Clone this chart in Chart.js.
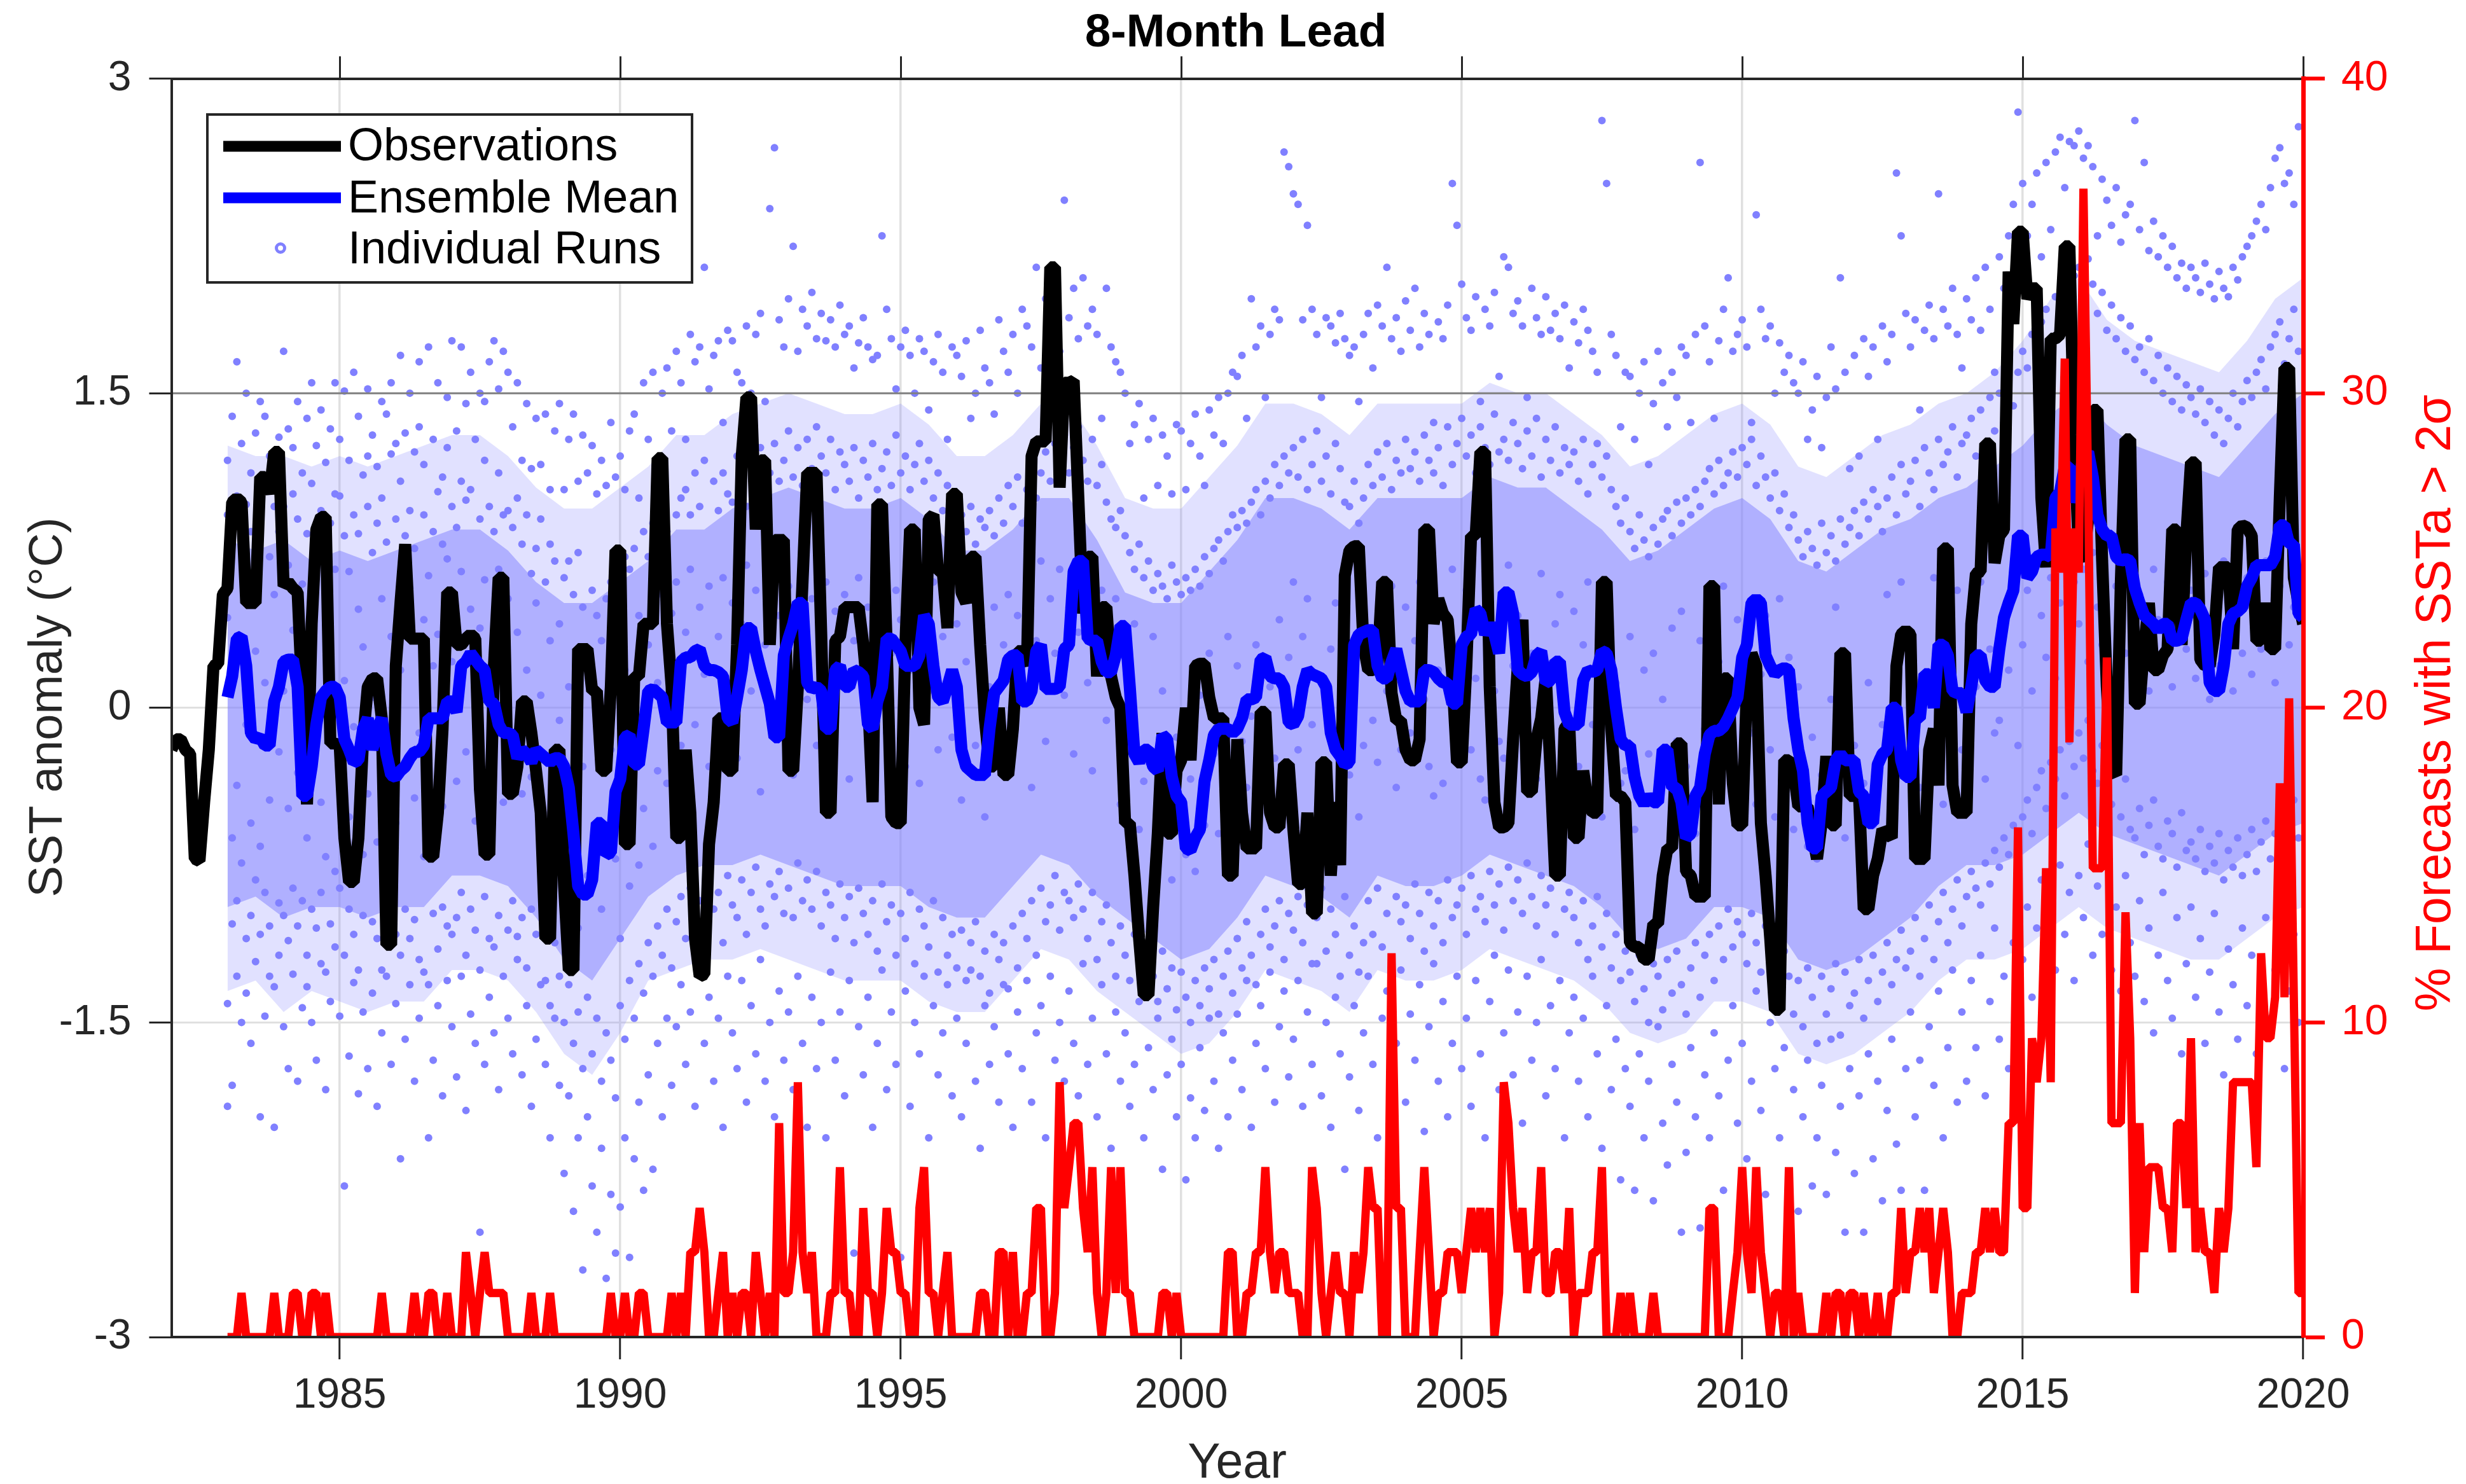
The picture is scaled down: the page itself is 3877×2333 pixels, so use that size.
<!DOCTYPE html>
<html><head><meta charset="utf-8">
<script src="https://cdn.jsdelivr.net/npm/chart.js@4"></script>
<style>html,body{margin:0;padding:0;background:#fff}canvas{display:block}</style></head>
<body><canvas id="c" width="3877" height="2333"></canvas>
<script>
const xTicks=[1985,1990,1995,2000,2005,2010,2015,2020];
const yTicks=[-3,-1.5,0,1.5,3];
const y2Ticks=[0,10,20,30,40];
const titleText='8-Month Lead', xTitle='Year', yTitle='SST anomaly (°C)', y2Title='% Forecasts with SSTa > 2σ';
const legendLabels=['Observations','Ensemble Mean','Individual Runs'];
const obsStartYear=1982, forecastStartYear=1983;
const obsValues=[
-.2,-.15,-.15,-.2,-.22,-.72,-.73,-.45,-.2,.2,.21,.54,
.57,.98,1.0,.98,.5,.5,.5,1.1,1.1,1.02,1.22,1.22,
.58,.6,.57,.55,.05,-.46,.4,.85,.91,.91,-.17,-.17,
-.18,-.62,-.83,-.83,-.62,-.15,.1,.14,.14,-.05,-1.13,-1.13,
.2,.5,.78,.33,.33,.33,.33,-.71,-.71,-.5,-.1,.55,
.55,.3,.3,.33,.35,.33,-.39,-.7,-.7,.2,.62,.62,
-.41,-.41,-.28,.03,.03,-.12,-.3,-.5,-1.1,-1.1,-.2,-.2,
-.85,-1.25,-1.25,.28,.28,.28,.08,.08,-.3,-.3,.1,.75,
.75,-.65,-.65,.15,.15,.4,.4,.4,1.19,1.19,.4,.1,
-.62,-.62,-.2,-.5,-1.1,-1.28,-1.27,-.65,-.45,-.05,-.05,-.3,
-.3,.3,1.2,1.48,1.48,.85,1.18,1.18,.3,.8,.8,.8,
-.3,-.3,.1,.6,1.12,1.12,1.12,.35,-.5,-.5,.32,.34,
.48,.48,.48,.48,.3,.05,-.45,.97,.97,.3,-.52,-.55,
-.55,.3,.85,.85,0,-.08,.9,.92,.65,.65,.38,1.02,
1.02,.55,.5,.72,.72,.3,-.05,-.28,-.28,0,-.32,-.32,
-.1,.27,.27,.2,1.2,1.27,1.27,1.27,2.1,2.1,1.05,1.55,
1.55,1.56,1.0,.45,.72,.72,.15,.48,.48,.15,.05,0,
-.55,-.55,-.8,-1.1,-1.37,-1.37,-.95,-.6,-.12,-.6,-.6,-.3,
-.25,0,-.25,.2,.21,.21,.05,-.05,-.05,-.05,-.8,-.8,
-.15,-.5,-.67,-.67,-.67,-.02,-.02,-.5,-.57,-.57,-.27,-.27,
-.58,-.84,-.84,-.5,-.98,-.98,-.26,-.26,-.8,-.45,-.75,.63,
.75,.77,.77,.3,.18,.18,.2,.6,.6,.07,-.06,-.06,
-.2,-.25,-.25,-.15,.85,.85,.4,.52,.45,.42,.15,-.26,
-.26,.2,.82,.82,1.22,1.22,.1,-.45,-.57,-.57,-.55,-.15,
.2,.42,-.4,-.4,-.15,-.05,.15,-.3,-.8,-.8,-.1,-.07,
-.62,-.62,-.3,-.45,-.5,-.5,.6,.6,-.1,-.42,-.42,-.45,
-1.12,-1.14,-1.14,-1.2,-1.2,-1.03,-1.03,-.8,-.67,-.67,-.17,-.17,
-.78,-.8,-.9,-.9,-.9,.58,.58,-.46,.14,.14,-.36,-.56,
-.56,.1,.26,.2,-.55,-.8,-1.1,-1.44,-1.44,-.25,-.25,-.3,
-.47,-.47,-.47,-.6,-.72,-.55,-.23,-.56,-.56,.26,.26,-.42,
-.42,-.42,-.96,-.96,-.8,-.72,-.58,-.6,-.62,.2,.35,.37,
.35,-.72,-.72,-.72,-.2,-.1,-.37,.76,.76,-.37,-.5,-.5,
-.5,.4,.64,.65,1.26,1.26,.69,.82,.85,2.08,1.83,2.27,
2.27,1.95,2.0,2.0,1.0,.67,1.76,1.76,1.78,2.2,2.2,1.3,
.75,.7,.9,1.42,1.42,.7,.1,-.3,-.32,.6,1.28,1.28,
.02,.02,.3,.5,.18,.18,.25,.28,.85,.85,.3,.82,
1.17,1.17,.23,.2,.2,.35,.67,.67,.67,.28,.85,.87,
.86,.82,.32,.32,.5,.28,.28,1.0,1.62,1.62,.62,.5,
.4];
const meanValues=[
.05,.15,.33,.34,.2,-.12,-.15,-.14,-.18,-.18,.03,.1,
.22,.23,.23,.1,-.42,-.42,-.28,-.08,.05,.08,.1,.1,
.05,-.15,-.2,-.26,-.25,-.1,-.05,-.2,-.1,-.05,-.22,-.32,
-.33,-.3,-.28,-.24,-.21,-.21,-.18,-.05,-.05,-.05,-.05,.03,
.03,-.02,.2,.22,.26,.23,.2,.18,.03,.02,-.08,-.12,
-.12,-.13,-.24,-.2,-.22,-.26,-.2,-.22,-.24,-.26,-.24,-.24,
-.28,-.38,-.6,-.85,-.89,-.89,-.82,-.55,-.55,-.7,-.69,-.4,
-.34,-.14,-.13,-.27,-.27,-.1,.08,.09,.07,.05,-.07,-.07,
-.07,.22,.24,.24,.27,.28,.2,.18,.18,.17,.15,-.05,
-.07,.05,.18,.38,.38,.27,.18,.1,.02,-.14,-.14,.25,
.33,.4,.5,.5,.12,.09,.1,.08,-.1,-.1,.18,.2,
.1,.1,.18,.17,.15,-.08,-.1,.03,.1,.33,.33,.3,
.27,.2,.2,.2,.25,.44,.4,.2,.05,.03,.1,.18,
.1,-.2,-.28,-.3,-.32,-.32,-.32,-.1,.07,.1,.13,.23,
.25,.25,.03,.03,.08,.27,.3,.09,.09,.09,.1,.28,
.3,.65,.7,.7,.33,.32,.32,.22,.17,.17,.25,.39,
.39,.1,-.22,-.26,-.2,-.2,-.28,-.3,-.13,-.15,-.33,-.42,
-.45,-.67,-.68,-.62,-.58,-.35,-.25,-.13,-.1,-.1,-.1,-.12,
-.1,-.05,.04,.04,.05,.23,.24,.15,.14,.14,.1,-.07,
-.08,-.04,.1,.18,.16,.15,.14,.1,-.12,-.2,-.23,-.27,
-.26,.3,.35,.36,.37,.37,.2,.14,.14,.22,.28,.18,
.08,.03,.03,.03,.18,.18,.17,.14,.12,.12,.02,.02,
.3,.34,.35,.47,.45,.35,.4,.35,.26,.55,.55,.45,
.18,.16,.15,.17,.25,.27,.12,.13,.22,.22,-.02,-.08,
-.08,-.08,.13,.18,.17,.18,.27,.26,.18,0,-.15,-.18,
-.18,-.33,-.42,-.46,-.42,-.45,-.45,-.2,-.2,-.38,-.38,-.45,
-.62,-.6,-.42,-.38,-.22,-.13,-.11,-.11,-.09,-.05,0,.05,
.24,.3,.5,.52,.5,.25,.2,.16,.18,.19,.18,-.05,
-.2,-.3,-.55,-.67,-.67,-.42,-.4,-.38,-.25,-.22,-.25,-.25,
-.25,-.4,-.42,-.55,-.55,-.27,-.22,-.2,0,0,-.25,-.33,
-.33,-.05,-.05,.16,.16,0,.3,.3,.25,.08,.07,.07,
-.02,.1,.25,.25,.13,.1,.1,.28,.43,.5,.56,.82,
.82,.62,.65,.72,.73,.73,.72,1.0,1.03,1.15,1.15,.98,
1.08,1.2,1.22,1.1,.92,.85,.82,.82,.72,.7,.71,.7,
.57,.5,.44,.42,.4,.37,.4,.4,.32,.32,.33,.42,
.5,.5,.47,.42,.12,.08,.08,.2,.4,.45,.46,.48,
.58,.62,.68,.68,.68,.68,.72,.87,.87,.78,.78,.45,
.43];
const pctValues=[
0,0,0,1.4,0,0,0,0,0,0,1.4,0,
0,0,1.4,1.4,0,0,1.4,1.4,0,1.4,0,0,
0,0,0,0,0,0,0,0,0,1.4,0,0,
0,0,0,0,1.4,0,0,1.4,1.4,0,0,1.4,
0,0,0,2.7,1.4,0,1.4,2.7,1.4,1.4,1.4,1.4,
0,0,0,0,0,1.4,0,0,0,1.4,0,0,
0,0,0,0,0,0,0,0,0,0,1.4,0,
0,1.4,0,0,1.4,1.4,0,0,0,0,0,1.4,
0,1.4,0,2.7,2.7,4.1,2.7,0,0,1.4,2.7,0,
1.4,0,1.4,1.4,0,2.7,1.4,0,1.4,0,6.8,1.4,
1.4,2.7,8.1,2.7,1.4,2.7,0,0,0,1.4,1.4,5.4,
1.4,1.4,0,0,4.1,1.4,1.4,0,1.4,4.1,2.7,2.7,
1.4,1.4,0,0,4.1,5.4,1.4,1.4,0,1.4,2.7,0,
0,0,0,0,0,1.4,1.4,0,0,2.7,2.7,0,
2.7,0,0,1.4,1.4,4.1,4.1,0,0,1.4,8.1,4.1,
5.4,6.8,6.8,4.1,2.7,5.4,1.4,0,1.4,5.4,1.4,5.4,
1.4,1.4,0,0,0,0,0,0,1.4,1.4,0,1.4,
0,0,0,0,0,0,0,0,0,0,2.7,2.7,
0,0,1.4,1.4,2.7,2.7,5.4,2.7,1.4,2.7,2.7,1.4,
1.4,1.4,0,0,5.4,4.1,1.4,0,1.4,2.7,1.4,1.4,
0,2.7,1.4,2.7,5.4,4.1,4.1,0,0,12.2,4.1,4.1,
0,0,0,2.7,5.4,2.7,0,1.4,1.4,2.7,2.7,2.7,
1.4,2.7,4.1,2.7,4.1,2.7,4.1,0,1.4,8.1,6.8,4.1,
2.7,4.1,1.4,2.7,2.7,5.4,1.4,1.4,2.7,2.7,1.4,4.1,
0,1.4,1.4,1.4,2.7,2.7,5.4,0,0,0,1.4,0,
1.4,0,0,0,0,1.4,0,0,0,0,0,0,
0,0,0,0,0,4.1,4.1,0,0,0,1.4,2.7,
5.4,2.7,1.4,5.4,2.7,1.4,0,1.4,1.4,0,5.4,0,
1.4,0,0,0,0,0,1.4,0,1.4,1.4,0,1.4,
1.4,0,1.4,0,0,1.4,0,0,1.4,1.4,4.1,1.4,
2.7,2.7,4.1,2.7,4.1,1.4,2.7,4.1,2.7,0,0,1.4,
1.4,1.4,2.7,2.7,4.1,2.7,4.1,2.7,2.7,6.8,6.8,16.2,
4.1,4.1,9.5,8.1,9.5,14.9,8.1,25.7,24.3,31.1,18.9,25.7,
24.3,36.5,27,14.9,14.9,14.9,21.6,6.8,6.8,6.8,13.5,9.5,
1.4,6.8,2.7,5.4,5.4,5.4,4.1,4.1,2.7,6.8,6.8,4.1,
9.5,2.7,4.1,2.7,2.7,1.4,4.1,2.7,4.1,8.1,8.1,8.1,
8.1,8.1,5.4,12.2,9.5,9.5,10.8,17.6,10.8,20.3,10.8,1.4,
1.4];
// Outlines of the solid and the thinner part of the run cloud, read every half year from 1983.0 on
const denseHi=[.8,.75,.8,.7,.75,.7,.75,.8,.85,.85,.75,.6,.5,.5,.6,.7,.85,.85,.95,1,1.05,1,.95,.95,1,.9,.75,.75,.85,1,1,.8,.55,.5,.5,.65,.8,1,1,.95,.85,1,1,1,1,1.1,1.05,1.05,.95,.85,.7,.75,.85,.95,1,.9,.7,.65,.75,.85,.9,1,1.05,1.15,1.25,1.4,1.5,1.35,1.25,1.2,1.15,1.1,1.25,1.4,1.5];
const denseLo=[-.95,-.9,-1,-.95,-.95,-1,-.95,-.95,-.8,-.8,-.85,-1,-1.2,-1.3,-1.1,-.9,-.8,-.75,-.75,-.7,-.75,-.8,-.85,-.85,-.85,-.95,-1,-1,-.85,-.7,-.75,-.9,-1,-1.1,-1.2,-1.15,-1,-.8,-.85,-.9,-1,-.8,-.85,-.85,-.8,-.7,-.75,-.8,-.85,-.95,-1.1,-1.15,-1.1,-.95,-.95,-1,-1.2,-1.25,-1.2,-1.1,-1,-.85,-.75,-.75,-.7,-.6,-.5,-.6,-.65,-.7,-.75,-.8,-.7,-.6,-.55];
const thinHi=[1.25,1.2,1.2,1.15,1.2,1.15,1.2,1.25,1.3,1.3,1.2,1.05,.95,.95,1.05,1.15,1.3,1.3,1.4,1.45,1.5,1.45,1.4,1.4,1.45,1.35,1.2,1.2,1.3,1.45,1.45,1.25,1,.95,.95,1.1,1.25,1.45,1.45,1.4,1.3,1.45,1.45,1.45,1.45,1.55,1.5,1.5,1.4,1.3,1.15,1.2,1.3,1.4,1.45,1.35,1.15,1.1,1.2,1.3,1.35,1.45,1.5,1.6,1.75,1.95,2.05,1.85,1.75,1.7,1.65,1.6,1.75,1.95,2.05];
const thinLo=[-1.35,-1.3,-1.45,-1.35,-1.4,-1.45,-1.4,-1.4,-1.25,-1.25,-1.3,-1.45,-1.65,-1.75,-1.55,-1.3,-1.25,-1.2,-1.2,-1.15,-1.2,-1.25,-1.3,-1.3,-1.3,-1.4,-1.45,-1.45,-1.3,-1.15,-1.2,-1.35,-1.45,-1.55,-1.65,-1.6,-1.45,-1.25,-1.3,-1.35,-1.45,-1.25,-1.3,-1.3,-1.25,-1.15,-1.2,-1.25,-1.3,-1.4,-1.55,-1.6,-1.55,-1.4,-1.4,-1.45,-1.65,-1.7,-1.65,-1.55,-1.45,-1.3,-1.2,-1.2,-1.15,-1.05,-.95,-1.05,-1.1,-1.15,-1.2,-1.2,-1.1,-1,-.95];
// Individual runs, one list per month of each year, in hundredths of a degree
const runs1983=[[118,-190,43,-141,92],[-62,139,-103,-180,16,78],[165,-128,101,-37,-92],[88,-150,126,-74,30],[-110,150,61,-136,-8,97],[-160,84,112,-55,-99],[27,131,-121,-82,70],[-195,146,-66,95,-108],[107,-147,12,139,-88],[-128,72,120,-44,-104],[-200,96,-133,54,113],[129,-93,-21,-118,84]];
const runs1984=[[170,-152,8,96,-99],[-111,68,133,-172,-48],[124,-86,37,-127,102],[-178,146,-31,90,-104],[59,-143,112,-92,19],[138,-118,-62,83,-133],[-96,155,41,-150,107],[-168,76,125,-14,-105],[94,-122,-45,142,-88],[-182,58,117,-126,-71],[133,-103,23,88,-140],[-78,155,-114,66,102]];
const runs1985=[[101,-147,-33,128,-86],[-228,82,151,-118,13],[65,-96,118,-166,-52],[160,-131,-9,92,-108],[-125,47,139,-184,83],[-99,111,-145,29,-70],[152,-172,-41,96,120],[-136,74,-102,130,5],[-190,115,-64,88,-110],[146,-155,52,-125,100],[-128,-22,140,79,-104],[-170,121,34,-89,155]];
const runs1986=[[90,-141,-55,126,-108],[-215,168,18,-118,108],[-158,82,131,-28,-96],[150,-132,57,-110,94],[76,-178,-43,122,-101],[165,-148,-12,134,-120],[-126,92,-71,116,42],[-205,172,63,-132,-6],[-168,128,-98,84,20],[-142,155,35,-115,103],[110,-185,-47,78,-95],[-130,148,71,-104,124]];
const runs1987=[[175,-152,22,-108,96],[-176,86,132,-35,-100],[172,-128,65,-88,108],[-192,145,-21,99,-118],[104,-146,160,47,-96],[-106,128,-160,9,-54],[150,-250,90,-125,38],[-170,118,-90,146,61],[165,-138,-28,96,-110],[-155,175,84,-114,26],[-182,112,152,-99,66],[170,-128,-45,92,18]];
const runs1988=[[160,-148,52,94,-106],[-165,134,-16,-92,86],[155,-120,36,100,-109],[-175,78,118,-41,-100],[145,-142,18,-124,92],[-190,114,-96,64,-33],[138,-158,50,-108,76],[-132,116,-52,90,6],[140,-170,60,-130,-88],[-205,104,-142,32,78],[132,-148,-24,70,-112],[-180,145,-128,40,-6]];
const runs1989=[[-222,104,-150,-38,62],[128,-185,-132,10,70],[-240,140,-62,-160,54],[-105,108,-205,74,-145],[130,-268,-172,48,-28],[-195,112,-80,-138,22],[125,-228,56,-165,14],[-250,102,-148,-55,44],[118,-210,-178,32,-96],[-272,-155,106,-8,52],[136,-232,-168,60,-20],[-260,110,-186,-72,50]];
const runs1990=[[-238,120,-142,-110,60],[-205,104,-158,18,72],[132,-262,-130,-85,66],[-215,140,-148,-14,76],[-75,100,-188,-122,44],[155,-230,-136,-48,84],[128,-175,-112,30,72],[-220,160,-128,-66,88],[-30,112,-160,-104,12],[150,-195,-118,54,92],[-148,162,-96,-36,84],[-180,45,132,-124,24]];
const runs1991=[[170,-152,-102,60,92],[-132,155,-18,-90,100],[-170,128,36,-110,104],[178,-145,-86,66,92],[-190,-98,165,-8,112],[172,-125,48,-92,96],[210,-160,-106,16,118],[-138,152,-28,-84,58],[168,-178,-96,-30,108],[-148,175,34,-88,94],[-200,136,-112,62,112],[180,-128,-80,12,102]];
const runs1992=[[175,-155,-94,50,98],[-172,160,-24,-100,120],[-130,155,40,-82,106],[182,-188,-108,68,96],[-142,150,8,-88,116],[178,-165,-76,56,104],[188,-120,-96,-40,124],[-178,146,30,-104,100],[238,-150,-84,64,112],[267,-195,-90,-10,126],[-135,185,44,-78,108],[172,-168,-98,22,118]];
const runs1993=[[195,-145,-86,58,132],[220,-182,-100,-32,110],[-128,170,36,-74,124],[190,-160,-92,66,106],[182,-200,-82,4,128],[198,-138,-96,52,114],[-172,176,-18,-78,134],[188,-150,-104,28,120],[175,-205,-88,60,112],[185,-126,-94,-26,128],[-168,172,46,-110,104],[192,-145,-84,14,122]];
const runs1994=[[178,-185,-100,54,116],[182,-130,-90,-34,108],[-260,162,-112,32,124],[174,-152,-86,62,100],[186,-175,-98,6,118],[172,-138,-108,48,110],[-200,166,-22,-92,126],[168,-160,-116,38,104],[225,-125,-84,70,114],[190,-182,-102,-12,122],[176,-145,-94,26,106],[-170,152,56,-118,130]];
const runs1995=[[172,-262,-98,42,112],[180,-135,-110,-28,120],[168,-190,-88,18,104],[-150,150,64,-122,116],[176,-165,-96,-36,126],[170,-128,-104,50,108],[-205,142,8,-114,118],[165,-142,-92,60,100],[178,-175,-126,-20,112],[160,-155,-100,34,94],[-132,128,58,-118,106],[172,-185,-108,-14,98]];
const runs1996=[[168,-148,-124,40,102],[158,-195,-106,-44,92],[175,-160,-130,22,84],[-125,138,56,-112,96],[150,-178,-102,-18,78],[180,-210,-128,36,90],[162,-142,-116,-52,86],[155,-170,-136,10,94],[-152,140,48,-108,82],[185,-188,-120,-28,100],[170,-132,-112,30,88],[160,-165,-134,54,106]];
const runs1997=[[178,-200,-104,-8,96],[-145,150,44,-124,110],[190,-172,-98,20,88],[182,-130,-110,62,104],[172,-188,-92,-38,118],[210,-155,-118,32,100],[-142,162,70,-86,112],[195,-205,-102,-16,122],[188,-128,-94,52,108],[180,-168,-80,26,126],[-150,170,66,-106,116],[242,-178,-88,6,130]];
const runs1998=[[186,-135,-92,48,112],[200,-160,-100,-22,124],[176,-185,-84,36,134],[205,-122,-96,60,118],[182,-170,-110,12,108],[190,-148,-88,-30,128],[178,-195,-120,42,106],[-132,138,56,-102,116],[200,-165,-94,-6,98],[172,-210,-112,28,90],[165,-145,-128,52,86],[160,-178,-104,-46,94]];
const runs1999=[[150,-155,-118,24,82],[-60,126,-190,-130,74],[135,-170,-108,40,66],[145,-140,-122,-58,78],[-35,100,-205,-136,62],[128,-162,-114,-26,70],[138,-182,-128,34,56],[-48,106,-148,-140,64],[130,-220,-116,8,58],[120,-175,-134,-38,52],[-82,102,-158,-124,68],[135,-195,-144,-14,60]];
const runs2000=[[132,-170,-126,-52,54],[-70,104,-225,-138,62],[126,-186,-150,-34,56],[140,-205,-130,-78,66],[120,-162,-142,6,58],[-56,106,-192,-124,72],[142,-148,-134,26,64],[130,-178,-120,-22,76],[148,-210,-146,-60,80],[-28,126,-155,-128,70],[150,-195,-116,34,84],[160,-168,-136,-40,92]];
const runs2001=[[158,-146,-110,20,86],[168,-182,-124,-16,94],[-38,138,-130,-102,88],[195,-200,-118,-4,98],[172,-160,-132,30,104],[182,-142,-108,-30,92],[-12,148,-172,-96,108],[178,-126,-114,10,100],[190,-188,-104,-24,116],[185,-152,-92,42,106],[265,-135,-120,-36,120],[258,-176,-98,24,112]];
const runs2002=[[245,-158,-106,60,124],[240,-130,-90,-20,110],[185,-190,-112,34,128],[230,-145,-94,52,104],[190,-170,-122,-8,116],[178,-122,-100,16,132],[-28,148,-185,-86,108],[186,-150,-116,-42,120],[182,-200,-96,28,102],[174,-138,-108,50,126],[188,-165,-128,-14,114],[176,-220,-90,38,98]];
const runs2003=[[168,-176,-118,-32,96],[172,-142,-104,12,108],[-52,146,-192,-126,88],[178,-155,-112,-18,100],[188,-128,-92,30,116],[-6,162,-170,-108,106],[192,-205,-86,-26,122],[182,-148,-114,44,110],[210,-135,-98,8,126],[176,-182,-120,58,104],[186,-160,-90,-38,118],[-20,170,-125,-102,112]];
const runs2004=[[194,-188,-94,48,128],[180,-146,-110,-12,114],[200,-168,-84,32,122],[172,-132,-98,60,108],[188,-202,-116,4,130],[178,-152,-88,-28,118],[-42,136,-122,-104,112],[184,-178,-92,18,124],[176,-140,-112,-36,106],[192,-195,-82,42,134],[250,-160,-100,66,116],[230,-128,-94,-6,126]];
const runs2005=[[202,-172,-86,28,138],[186,-148,-108,56,120],[180,-190,-80,-20,130],[196,-130,-96,14,112],[-34,146,-165,-90,134],[190,-205,-102,-44,124],[182,-140,-78,36,116],[198,-118,-94,8,140],[-16,158,-182,-84,122],[215,-155,-106,-24,128],[210,-125,-76,68,118],[188,-175,-92,20,136]];
const runs2006=[[194,-145,-82,44,126],[182,-198,-98,-10,114],[-26,148,-128,-74,132],[200,-168,-90,26,120],[186,-150,-104,-34,138],[178,-120,-80,64,110],[196,-185,-94,6,128],[180,-142,-86,-16,118],[188,-172,-108,40,134],[176,-130,-78,54,112],[192,-205,-96,-40,124],[-30,162,-155,-88,116]];
const runs2007=[[184,-138,-100,46,122],[174,-178,-112,-28,108],[190,-148,-92,30,128],[180,-195,-120,60,102],[170,-128,-104,-8,116],[-46,160,-165,-90,126],[280,-210,-114,-52,110],[250,-142,-98,42,120],[178,-182,-124,-18,104],[168,-158,-108,12,96],[-36,134,-225,-130,88],[160,-172,-116,-30,100]];
const runs2008=[[158,-190,-126,34,84],[-58,128,-230,-140,76],[150,-165,-118,-42,92],[165,-205,-134,18,80],[-22,116,-178,-150,72],[145,-235,-122,26,86],[170,-152,-128,-36,78],[155,-198,-144,4,90],[-70,134,-218,-120,94],[160,-170,-136,38,82],[148,-188,-116,-16,98],[172,-250,-132,46,88]];
const runs2009=[[168,-212,-146,-28,100],[-44,136,-162,-124,92],[178,-195,-112,-60,104],[260,-248,-138,32,96],[182,-175,-118,-10,108],[165,-205,-108,50,114],[-18,138,-155,-130,102],[175,-185,-104,22,118],[190,-230,-120,58,106],[205,-168,-96,-24,112],[170,-142,-114,8,122],[178,-198,-102,42,110]];
const runs2010=[[185,-160,-108,-34,124],[172,-215,-122,28,116],[-12,136,-178,-98,128],[235,-135,-112,-46,106],[190,-192,-126,16,120],[176,-232,-104,44,110],[182,-150,-118,-20,100],[-52,150,-172,-132,112],[174,-205,-140,52,94],[160,-162,-116,-30,102],[168,-225,-128,24,86],[155,-182,-146,-58,92]];
const runs2011=[[150,-240,-130,10,80],[165,-195,-152,-40,72],[-66,128,-168,-124,84],[142,-228,-138,-14,76],[158,-205,-160,-72,68],[-32,124,-180,-128,88],[148,-232,-146,-48,74],[172,-158,-134,4,82],[152,-212,-122,48,70],[205,-190,-156,-26,90],[160,-250,-126,-62,78],[-8,114,-172,-142,86]];
const runs2012=[[168,-222,-136,-18,94],[-50,120,-185,-120,82],[176,-250,-148,-36,98],[158,-165,-130,12,90],[172,-215,-118,-56,104],[-24,128,-178,-140,96],[182,-235,-126,-8,84],[165,-192,-112,54,100],[178,-158,-132,-44,110],[255,-208,-120,18,92],[225,-230,-106,60,116],[188,-172,-124,-22,102]];
const runs2013=[[172,-145,-116,34,108],[185,-195,-100,-12,118],[-38,142,-168,-128,96],[180,-230,-110,8,124],[192,-152,-94,-30,112],[176,-180,-120,62,104],[245,-135,-102,24,128],[190,-205,-88,-46,116],[182,-162,-112,40,122],[200,-125,-96,-4,134],[178,-188,-82,56,110],[-20,162,-145,-104,126]];
const runs2014=[[195,-178,-90,-24,130],[185,-130,-78,46,138],[205,-162,-86,10,120],[180,-118,-94,60,142],[210,-185,-74,-34,126],[190,-140,-84,28,148],[-12,160,-105,-68,132],[215,-158,-76,-6,150],[200,-128,-62,38,136],[225,-172,-70,18,156],[240,-112,-56,64,144],[284,-145,-80,-18,160]];
const runs2015=[[250,-120,-52,30,170],[225,-95,-44,56,162],[240,-138,-60,8,178],[255,-105,-38,70,168],[215,-82,-30,44,184],[260,-118,-48,24,190],[228,-90,-26,62,176],[265,-125,-34,14,196],[272,-75,-20,50,186],[248,-108,-42,78,200],[270,-88,-16,36,192],[268,-130,-28,60,206]];
const runs2016=[[275,-80,-12,40,210],[262,-100,-24,66,196],[268,-65,-6,22,214],[258,-118,-30,74,202],[225,-85,-36,48,188],[252,-108,-18,30,198],[242,-72,-40,84,180],[230,-125,-46,12,192],[248,-95,-28,58,176],[222,-135,-52,68,186],[235,-80,-34,26,170],[240,-112,-58,76,182]];
const runs2017=[[280,-128,-62,18,166],[228,-92,-48,54,172],[260,-140,-70,34,160],[218,-105,-56,8,176],[232,-155,-44,66,156],[215,-118,-66,42,168],[225,-88,-72,22,150],[210,-130,-54,60,162],[220,-148,-60,10,146],[205,-100,-76,48,158],[212,-165,-50,72,142],[200,-122,-68,28,154]];
const runs2018=[[210,-95,-64,56,148],[205,-138,-72,14,140],[198,-110,-58,38,152],[212,-160,-78,64,136],[202,-126,-66,4,146],[195,-98,-74,46,130],[208,-145,-60,20,142],[200,-175,-82,70,126],[196,-115,-68,32,138],[210,-132,-76,8,150],[204,-158,-62,52,134],[215,-105,-80,26,146]];
const runs2019=[[220,-142,-70,62,156],[225,-118,-58,16,148],[232,-165,-78,44,160],[240,-128,-64,28,166],[228,-100,-54,70,152],[248,-148,-72,36,172],[262,-125,-60,12,178],[267,-90,-48,58,184],[250,-172,-66,80,164],[255,-135,-56,30,176],[240,-108,-44,48,190],[277,-150,-62,66,170]];
const runYearLists=[runs1983,runs1984,runs1985,runs1986,runs1987,runs1988,runs1989,runs1990,runs1991,runs1992,runs1993,runs1994,runs1995,runs1996,runs1997,runs1998,runs1999,runs2000,runs2001,runs2002,runs2003,runs2004,runs2005,runs2006,runs2007,runs2008,runs2009,runs2010,runs2011,runs2012,runs2013,runs2014,runs2015,runs2016,runs2017,runs2018,runs2019];

const monthly=(start,vals)=>vals.map((v,i)=>({x:start+i/12,y:v}));
const halfYearly=(start,vals)=>vals.map((v,i)=>({x:start+i/2,y:v}));
const runPoints=[];
runYearLists.forEach((yr,a)=>yr.forEach((mo,m)=>mo.forEach(v=>runPoints.push({x:forecastStartYear+a+m/12,y:v/100}))));

const FONT='"Liberation Sans", Arial, sans-serif', DARK='#262626', GRID='#e0e0e0', RUN='#8080ff';
const setTicks=list=>axis=>{axis.ticks=list.map(v=>({value:v}));};
const line=(label,data,color,width,order,yAxisID)=>({label,data,borderColor:color,borderWidth:width,pointRadius:0,borderJoinStyle:'bevel',borderCapStyle:'butt',tension:0,fill:false,order,yAxisID,xAxisID:'x'});
const cloud=(label,data,fill,bg,order)=>({label,data,borderWidth:0,pointRadius:0,tension:0,backgroundColor:bg,fill,order,yAxisID:'y',xAxisID:'x'});

const overlay={id:'overlay',afterDraw(chart){
  const c=chart.ctx;c.save();
  c.textBaseline='alphabetic';
  c.fillStyle='#000';c.textAlign='center';c.font='bold 73px '+FONT;c.fillText(titleText,1943,73);
  c.fillStyle=DARK;c.font='77px '+FONT;c.fillText(xTitle,1945,2323);
  c.save();c.translate(97,1112);c.rotate(-Math.PI/2);c.font='74px '+FONT;c.fillText(yTitle,0,0);c.restore();
  c.save();c.translate(3852,1105);c.rotate(-Math.PI/2);c.fillStyle='#ff0000';c.font='77px '+FONT;c.fillText(y2Title,0,0);c.restore();
  c.fillStyle='#fff';c.fillRect(326,180,762,264);
  c.strokeStyle=DARK;c.lineWidth=4;c.strokeRect(326,180,762,264);
  c.lineWidth=17;c.strokeStyle='#000';c.beginPath();c.moveTo(351,230);c.lineTo(536,230);c.stroke();
  c.strokeStyle='#0000ff';c.beginPath();c.moveTo(351,311);c.lineTo(536,311);c.stroke();
  c.lineWidth=5;c.strokeStyle=RUN;c.beginPath();c.arc(441,390,6.5,0,Math.PI*2);c.stroke();
  c.fillStyle='#000';c.textAlign='left';c.font='72px '+FONT;
  c.fillText(legendLabels[0],547,252);c.fillText(legendLabels[1],547,334);c.fillText(legendLabels[2],547,414);
  c.restore();
}};

new Chart(document.getElementById('c'),{
 type:'line',
 plugins:[overlay],
 data:{datasets:[
  line('% Forecasts with SSTa > 2σ',monthly(forecastStartYear,pctValues),'#ff0000',13,0,'y2'),
  line('Ensemble Mean',monthly(forecastStartYear,meanValues),'#0000ff',19,1,'y'),
  line('Observations',monthly(obsStartYear,obsValues),'#000000',19,2,'y'),
  line('1.5 line',[{x:1982,y:1.5},{x:2020,y:1.5}],'#808080',3,3,'y'),
  {label:'Individual Runs',data:runPoints,showLine:false,pointRadius:6,pointBorderWidth:0,pointBackgroundColor:RUN,pointBorderColor:RUN,order:4,yAxisID:'y',xAxisID:'x'},
  cloud('Runs solid upper',halfYearly(forecastStartYear,denseHi),'+1','rgba(128,128,255,0.5)',5),
  cloud('Runs solid lower',halfYearly(forecastStartYear,denseLo),false,undefined,6),
  cloud('Runs thin upper',halfYearly(forecastStartYear,thinHi),'+1','rgba(128,128,255,0.24)',7),
  cloud('Runs thin lower',halfYearly(forecastStartYear,thinLo),false,undefined,8)
 ]},
 options:{
  responsive:false,devicePixelRatio:1,animation:false,events:[],
  layout:{padding:{top:88.5,left:0,right:0,bottom:0}},
  plugins:{legend:{display:false},tooltip:{enabled:false},title:{display:false}},
  scales:{
   x:{type:'linear',position:'bottom',min:1982,max:2020,afterBuildTicks:setTicks(xTicks),afterFit:a=>{a.height=231;},
      grid:{color:GRID,lineWidth:3.5,tickColor:DARK,tickWidth:3,tickLength:35},
      border:{color:DARK,width:4,z:1},
      ticks:{color:DARK,font:{family:FONT,size:66},padding:18,maxRotation:0,autoSkip:false,callback:v=>String(v)}},
   x2:{type:'linear',axis:'x',position:'top',min:1982,max:2020,afterBuildTicks:setTicks(xTicks),afterFit:a=>{a.height=35;},
      grid:{drawOnChartArea:false,tickColor:DARK,tickWidth:3,tickLength:35},
      border:{color:DARK,width:4,z:1},
      ticks:{display:false}},
   y:{type:'linear',position:'left',min:-3,max:3,afterBuildTicks:setTicks(yTicks),afterFit:a=>{a.width=269.5;},
      grid:{color:GRID,lineWidth:3,tickColor:DARK,tickWidth:3,tickLength:35},
      border:{color:DARK,width:4,z:1},
      ticks:{color:DARK,font:{family:FONT,size:66},padding:28,autoSkip:false,callback:v=>String(v)}},
   y2:{type:'linear',axis:'y',position:'right',min:0,max:40,afterBuildTicks:setTicks(y2Ticks),afterFit:a=>{a.width=256;},
      grid:{drawOnChartArea:false,tickColor:'#ff0000',tickWidth:6,tickLength:34},
      border:{color:'#ff0000',width:7,z:1},
      ticks:{color:'#ff0000',font:{family:FONT,size:66},padding:26,autoSkip:false,callback:v=>String(v)}}
  }
 }
});
</script></body></html>
